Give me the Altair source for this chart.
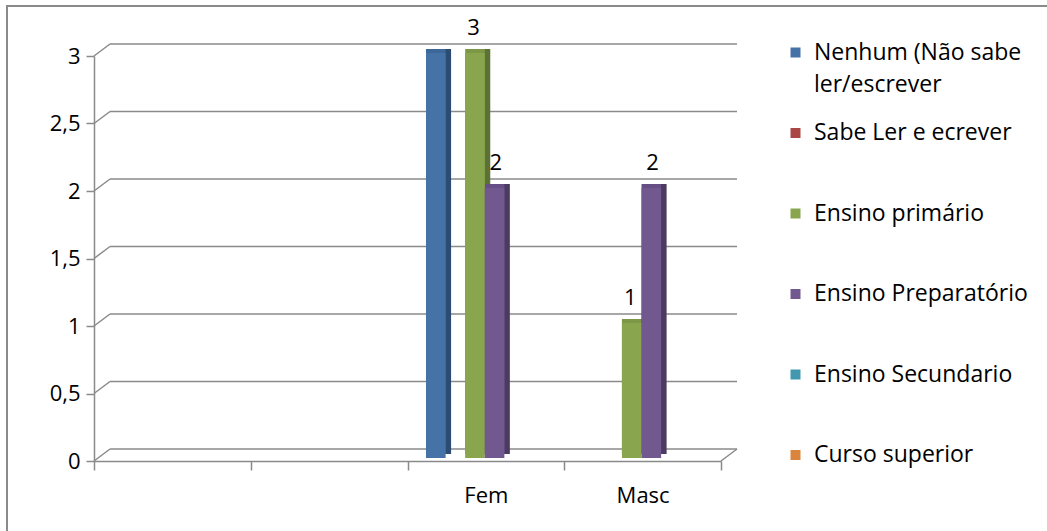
import altair as alt
import pandas as pd

# Categories along the x axis (the first two slots carry no label)
categories = ["", " ", "Fem", "Masc"]

# Education level series
series = [
    "Nenhum (Não sabe ler/escrever",
    "Sabe Ler e ecrever",
    "Ensino primário",
    "Ensino Preparatório",
    "Ensino Secundario",
    "Curso superior",
]
fem_values = [3, 0, 3, 2, 0, 0]
masc_values = [0, 0, 1, 2, 0, 0]

# Series whose values are printed above the columns
labelled_series = ["Ensino primário", "Ensino Preparatório"]

y_ticks = [0, 0.5, 1, 1.5, 2, 2.5, 3]

# Column shading: front face, top face, side face
front_colors = ["#4572A7", "#AA4643", "#89A54E", "#71588F", "#4198AF", "#DB843D"]
top_colors = ["#3D6699", "#983E3B", "#7C9746", "#664F84", "#3A899E", "#C77535"]
side_colors = ["#2D4C72", "#742F2D", "#5C7133", "#4C3B61", "#2B6676", "#985A29"]

rows = []
for cat, vals in (("Fem", fem_values), ("Masc", masc_values)):
    for s, v in zip(series, vals):
        rows.append({"cat": cat, "serie": s, "valor": v})
df = pd.DataFrame(rows)
df_labels = df[df["serie"].isin(labelled_series) & (df["valor"] > 0)]
grid_df = pd.DataFrame({"v": y_ticks})
floor_df = pd.DataFrame({"v": [0]})
frame_df = pd.DataFrame({"k": [0]})

FONT = "Open Sans"
FS = 22
LEGEND_FS = 23
GRAY = "#8a8a8a"
W, H = 627, 405
DX, DY = 16, 12  # depth of the 3D back wall

y_scale = alt.Scale(domain=[0, 3], nice=False, zero=True)
x_scale = alt.Scale(domain=categories, paddingInner=0, paddingOuter=0)


def off_scale(align):
    return alt.Scale(domain=series, paddingInner=0, paddingOuter=1, align=align)


x_axis = alt.Axis(
    title=None, tickBand="extent", tickSize=9, tickColor=GRAY, tickWidth=1.5,
    domainColor=GRAY, domainWidth=1.5, labelFont=FONT, labelFontSize=FS,
    labelColor="#000000", labelPadding=15, labelAngle=0, grid=False,
)
y_axis = alt.Axis(
    title=None, values=y_ticks, format="~g",
    labelExpr="replace(datum.label, '.', ',')",
    tickSize=8, tickColor=GRAY, tickWidth=1.5, domainColor=GRAY, domainWidth=1.5,
    labelFont=FONT, labelFontSize=FS, labelColor="#000000", labelPadding=6, grid=False,
)


def X():
    return alt.X("cat:N", scale=x_scale, axis=x_axis)


def Y(field):
    return alt.Y(field, scale=y_scale, axis=y_axis)


frame = alt.Chart(frame_df).mark_rect(
    fill="transparent", stroke=GRAY, strokeWidth=2
).encode(
    x=alt.value(-87), x2=alt.value(1100), y=alt.value(-50), y2=alt.value(600)
)

grid = alt.Chart(grid_df).mark_rule(color=GRAY, strokeWidth=1.5, yOffset=-DY).encode(
    y=Y("v:Q"), x=alt.value(DX), x2=alt.value(W + DX),
)
left_edges = alt.Chart(grid_df).mark_rule(color=GRAY, strokeWidth=1.5, y2Offset=-DY).encode(
    y=Y("v:Q"), y2="v:Q", x=alt.value(0), x2=alt.value(DX),
)
floor_edge = alt.Chart(floor_df).mark_rule(color=GRAY, strokeWidth=1.5, y2Offset=-DY).encode(
    y=Y("v:Q"), y2="v:Q", x=alt.value(W), x2=alt.value(W + DX),
)

side = alt.Chart(df).mark_bar(yOffset=-7, y2Offset=-7, strokeWidth=0).encode(
    x=X(),
    xOffset=alt.XOffset("serie:N", scale=off_scale(0.612)),
    y=Y("valor:Q"),
    color=alt.Color("serie:N", scale=alt.Scale(domain=series, range=side_colors), legend=None),
)
top = alt.Chart(df).mark_bar(yOffset=-7, y2Offset=-7, strokeWidth=0).encode(
    x=X(),
    xOffset=alt.XOffset("serie:N", scale=off_scale(0.472)),
    y=Y("valor:Q"),
    color=alt.Color("serie:N", scale=alt.Scale(domain=series, range=top_colors), legend=None),
)
front = alt.Chart(df).mark_bar(yOffset=-3, y2Offset=-3, strokeWidth=0).encode(
    x=X(),
    xOffset=alt.XOffset("serie:N", scale=off_scale(0.472)),
    y=Y("valor:Q"),
    color=alt.Color(
        "serie:N",
        scale=alt.Scale(domain=series, range=front_colors),
        legend=alt.Legend(
            title=None, orient="none", legendX=690, legendY=-15, padding=0,
            symbolType="square", symbolSize=100, symbolStrokeWidth=0,
            labelFont=FONT, labelFontSize=LEGEND_FS, labelColor="#000000",
            labelOffset=7, labelLimit=400, rowPadding=24.5,
            labelExpr=(
                "datum.label == 'Nenhum (Não sabe ler/escrever' "
                "? ['Nenhum (Não sabe', 'ler/escrever'] : [datum.label, ' ']"
            ),
        ),
    ),
)
labels = alt.Chart(df_labels).mark_text(
    yOffset=-21, baseline="alphabetic", align="center", font=FONT, fontSize=FS, color="#000000"
).encode(
    x=X(),
    xOffset=alt.XOffset("serie:N", scale=off_scale(0.472)),
    y=Y("valor:Q"),
    text=alt.Text("valor:Q", format="d"),
)

chart = (
    alt.layer(frame, grid, left_edges, floor_edge, side, top, front, labels)
    .resolve_scale(xOffset="independent", color="independent")
    .properties(
        width=W, height=H,
        padding={"left": 94, "top": 56, "right": 326, "bottom": 70},
        autosize=alt.AutoSizeParams(type="none"),
        background="white",
    )
    .configure(
        view={"stroke": "transparent", "strokeWidth": 0},
        style={"guide-label": {"lineHeight": 32}},
    )
)

chart.save("out.html", embed_options={"renderer": "svg", "actions": False})
